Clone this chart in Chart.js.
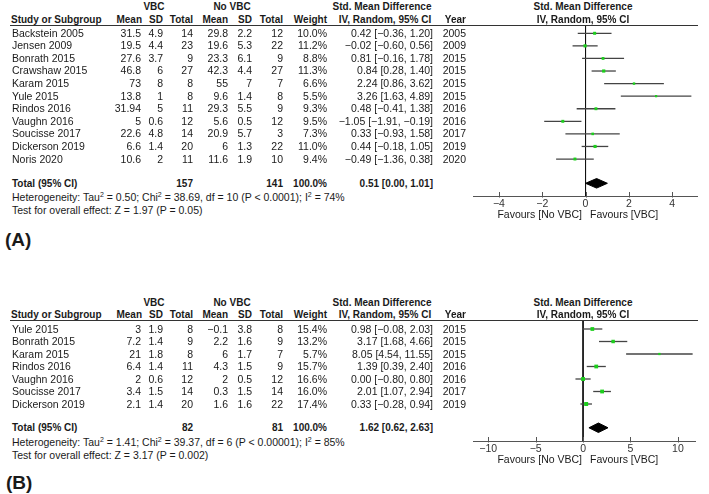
<!DOCTYPE html>
<html><head><meta charset="utf-8">
<script src="https://cdn.jsdelivr.net/npm/chart.js@4/dist/chart.umd.min.js"></script>
<style>
html,body{margin:0;padding:0;background:#fff;}
#page{position:relative;width:709px;height:494px;overflow:hidden;font-family:"Liberation Sans",Arial,sans-serif;font-size:10px;color:#1a1a1a;background:#fff;}
.t{position:absolute;white-space:nowrap;line-height:12px;height:12px;}
.b{font-weight:bold;}
.r{transform:translateX(-100%);}
.c{transform:translateX(-50%);}
.rule{position:absolute;height:0;border-top:1px solid #333;}
canvas{position:absolute;}
sup{font-size:7px;line-height:0;vertical-align:super;}
</style></head>
<body><div id="page">
<canvas id="cA" width="245" height="204" style="left:463px;top:16px;"></canvas>
<canvas id="cB" width="245" height="154" style="left:463px;top:311px;"></canvas>
</div>
<script>
// ---------- Panel A data ----------
const studiesA = ["Backstein 2005","Jensen 2009","Bonrath 2015","Crawshaw 2015","Karam 2015","Yule 2015","Rindos 2016","Vaughn 2016","Soucisse 2017","Dickerson 2019","Noris 2020"];
const vbcMeanA = [31.5,19.5,27.6,46.8,73,13.8,31.94,5,22.6,6.6,10.6];
const vbcSdA   = [4.9,4.4,3.7,6,8,1,5,0.6,4.8,1.4,2];
const vbcTotA  = [14,23,9,27,8,8,11,12,14,20,11];
const noMeanA  = [29.8,19.6,23.3,42.3,55,9.6,29.3,5.6,20.9,6,11.6];
const noSdA    = [2.2,5.3,6.1,4.4,7,1.4,5.5,0.5,5.7,1.3,1.9];
const noTotA   = [12,22,9,27,7,8,9,12,3,22,10];
const weightA  = [10.0,11.2,8.8,11.3,6.6,5.5,9.3,9.5,7.3,11.0,9.4];
const smdA     = [0.42,-0.02,0.81,0.84,2.24,3.26,0.48,-1.05,0.33,0.44,-0.49];
const loA      = [-0.36,-0.60,-0.16,0.28,0.86,1.63,-0.41,-1.91,-0.93,-0.18,-1.36];
const hiA      = [1.20,0.56,1.78,1.40,3.62,4.89,1.38,-0.19,1.58,1.05,0.38];
const yearA    = [2005,2009,2015,2015,2015,2015,2016,2016,2017,2019,2020];
const totalA   = [0.51,0.00,1.01];           // estimate, lower, upper
const totalNA  = [157,141];
const hetA     = ["0.50","38.69","10","P < 0.0001","74"];   // Tau2, Chi2, df, p, I2
const testA    = ["1.97","P = 0.05"];
const ticksA   = [-4,-2,0,2,4];
const tickLabelsA = ["−4","−2","0","2","4"];

// ---------- Panel B data ----------
const studiesB = ["Yule 2015","Bonrath 2015","Karam 2015","Rindos 2016","Vaughn 2016","Soucisse 2017","Dickerson 2019"];
const vbcMeanB = [3,7.2,21,6.4,2,3.4,2.1];
const vbcSdB   = [1.9,1.4,1.8,1.4,0.6,1.5,1.4];
const vbcTotB  = [8,9,8,11,12,14,20];
const noMeanB  = [-0.1,2.2,6,4.3,2,0.3,1.6];
const noSdB    = [3.8,1.6,1.7,1.5,0.5,1.5,1.6];
const noTotB   = [8,9,7,9,12,14,22];
const weightB  = [15.4,13.2,5.7,15.7,16.6,16.0,17.4];
const smdB     = [0.98,3.17,8.05,1.39,0.00,2.01,0.33];
const loB      = [-0.08,1.68,4.54,0.39,-0.80,1.07,-0.28];
const hiB      = [2.03,4.66,11.55,2.40,0.80,2.94,0.94];
const yearB    = [2015,2015,2015,2016,2016,2017,2019];
const totalB   = [1.62,0.62,2.63];
const totalNB  = [82,81];
const hetB     = ["1.41","39.37","6","P < 0.00001","85"];
const testB    = ["3.17","P = 0.002"];
const ticksB   = [-10,-5,0,5,10];
const tickLabelsB = ["−10","−5","0","5","10"];

// ---------- helpers ----------
Chart.defaults.font.family = '"Liberation Sans", Arial, sans-serif';
const page = document.getElementById('page');
const REG = 10.5, BOLD = 10;
const neg = s => String(s).replace('-', '−');
const f2 = v => (v < 0 ? '−' : '') + Math.abs(v).toFixed(2);
const ci = (e,l,h) => `${f2(e)} [${f2(l)}, ${f2(h)}]`;
function txt(s, x, y, align, bold, size) {
  const d = document.createElement('div');
  d.className = 't' + (bold ? ' b' : '') + (align === 'r' ? ' r' : align === 'c' ? ' c' : '');
  const fs = size || (bold ? BOLD : REG), lh = Math.round(fs * 1.2);
  d.style.fontSize = fs + 'px'; d.style.lineHeight = lh + 'px'; d.style.height = lh + 'px';
  d.style.left = x + 'px'; d.style.top = (y - lh / 2) + 'px';
  d.innerHTML = s;
  page.appendChild(d);
}
function rule(x1, x2, y) {
  const d = document.createElement('div');
  d.className = 'rule';
  d.style.left = x1 + 'px'; d.style.width = (x2 - x1) + 'px'; d.style.top = y + 'px';
  page.appendChild(d);
}

const COL = {study:12, vbcMean:141, vbcSd:163, vbcTot:193, noMean:228, noSd:252, noTot:283, weight:327, smd:433, year:466};

function table(P, L) {
  txt('VBC', 154, L.h1, 'c', true);
  txt('No VBC', 232, L.h1, 'c', true);
  txt('Std. Mean Difference', 382, L.h1, 'c', true);
  txt('Std. Mean Difference', 583, L.h1, 'c', true);
  txt('Study or Subgroup', 11, L.h2, 'l', true);
  txt('Mean', 142, L.h2, 'r', true);
  txt('SD', COL.vbcSd, L.h2, 'r', true);
  txt('Total', COL.vbcTot, L.h2, 'r', true);
  txt('Mean', COL.noMean, L.h2, 'r', true);
  txt('SD', COL.noSd, L.h2, 'r', true);
  txt('Total', COL.noTot, L.h2, 'r', true);
  txt('Weight', COL.weight, L.h2, 'r', true);
  txt('IV, Random, 95% CI', 385, L.h2, 'c', true);
  txt('Year', COL.year, L.h2, 'r', true);
  txt('IV, Random, 95% CI', 583, L.h2, 'c', true);
  rule(10, 698, L.rule);
  P.studies.forEach((s, i) => {
    const y = L.row0 + L.step * i;
    txt(s, COL.study, y, 'l');
    txt(neg(P.vbcMean[i]), COL.vbcMean, y, 'r');
    txt(neg(P.vbcSd[i]), COL.vbcSd, y, 'r');
    txt(P.vbcTot[i], COL.vbcTot, y, 'r');
    txt(neg(P.noMean[i]), COL.noMean, y, 'r');
    txt(neg(P.noSd[i]), COL.noSd, y, 'r');
    txt(P.noTot[i], COL.noTot, y, 'r');
    txt(P.weight[i].toFixed(1) + '%', COL.weight, y, 'r');
    txt(ci(P.smd[i], P.lo[i], P.hi[i]), COL.smd, y, 'r');
    txt(P.year[i], COL.year, y, 'r');
  });
  txt('Total (95% CI)', COL.study, L.tot, 'l', true);
  txt(P.totalN[0], COL.vbcTot, L.tot, 'r', true);
  txt(P.totalN[1], COL.noTot, L.tot, 'r', true);
  txt('100.0%', COL.weight, L.tot, 'r', true);
  txt(ci(P.total[0], P.total[1], P.total[2]), COL.smd, L.tot, 'r', true);
  const h = P.het;
  txt(`Heterogeneity: Tau<sup>2</sup> = ${h[0]}; Chi<sup>2</sup> = ${h[1]}, df = ${h[2]} (${h[3]}); I<sup>2</sup> = ${h[4]}%`, COL.study, L.het, 'l');
  txt(`Test for overall effect: Z = ${P.test[0]} (${P.test[1]})`, COL.study, L.test, 'l');
  txt('Favours [No VBC]', 582, L.fav, 'r');
  txt('Favours [VBC]', 590, L.fav, 'l');
  txt(L.label, L.labelX, L.labelY, 'l', true, 19);
}

const tickMarks = {
  id: 'tickMarks',
  afterDraw(chart) {
    const s = chart.scales.x, ctx = chart.ctx, y = chart.chartArea.bottom;
    ctx.save(); ctx.strokeStyle = '#555'; ctx.lineWidth = 1;
    s.ticks.forEach(t => {
      const px = Math.round(s.getPixelForValue(t.value)) + 0.5;
      ctx.beginPath(); ctx.moveTo(px, y - 4); ctx.lineTo(px, y + 1.5); ctx.stroke();
    });
    ctx.restore();
  }
};

function forest(id, P, X) {
  const green = '#1ccf1c';
  const ds = [];
  ds.push({ data: P.smd.map((v, i) => ({x: v, y: i})), showLine: false, pointStyle: 'rect',
            pointRadius: P.weight.map(w => 0.95 * Math.sqrt(w) / Math.SQRT2),
            pointBackgroundColor: green, pointBorderColor: green, pointBorderWidth: 0, order: 0 });
  const T = X.totalRow, h = X.dh;
  ds.push({ data: [{x: P.total[1], y: T}, {x: P.total[0], y: T - h}, {x: P.total[2], y: T}],
            fill: '+1', backgroundColor: '#000', borderColor: '#000', borderWidth: 1, pointRadius: 0, tension: 0, order: 1 });
  ds.push({ data: [{x: P.total[1], y: T}, {x: P.total[0], y: T + h}, {x: P.total[2], y: T}],
            fill: false, borderColor: '#000', borderWidth: 1, pointRadius: 0, tension: 0, order: 1 });
  P.lo.forEach((l, i) => {
    ds.push({ data: [{x: l, y: i}, {x: P.hi[i], y: i}], fill: false, borderColor: '#444', borderWidth: 1.3,
              pointRadius: 0, order: 2 });
  });
  ds.push({ data: [{x: 0, y: X.rMin}, {x: 0, y: X.rMax}], fill: false, borderColor: '#111', borderWidth: 1,
            pointRadius: 0, order: 3 });
  new Chart(document.getElementById(id), {
    type: 'line',
    data: { datasets: ds },
    plugins: [tickMarks],
    options: {
      responsive: false, maintainAspectRatio: false, animation: false, events: [],
      layout: { padding: { left: 10, top: 10, right: X.padRight, bottom: 0 } },
      plugins: { legend: { display: false }, tooltip: { enabled: false } },
      scales: {
        x: { type: 'linear', min: X.min, max: X.max,
             afterBuildTicks: s => { s.ticks = X.ticks.map(v => ({value: v})); },
             afterFit: s => { s.height = 24; },
             grid: { display: false, drawTicks: false },
             border: { display: true, color: '#555', width: 1 },
             ticks: { padding: 2, color: '#333', font: { size: 10.5 }, maxRotation: 0, autoSkip: false,
                      callback: (v, i) => X.tickLabels[i] } },
        y: { type: 'linear', display: false, reverse: true, min: X.rMin, max: X.rMax }
      }
    }
  });
}

const PA = {studies: studiesA, vbcMean: vbcMeanA, vbcSd: vbcSdA, vbcTot: vbcTotA, noMean: noMeanA, noSd: noSdA,
  noTot: noTotA, weight: weightA, smd: smdA, lo: loA, hi: hiA, year: yearA, total: totalA, totalN: totalNA, het: hetA, test: testA};
const PB = {studies: studiesB, vbcMean: vbcMeanB, vbcSd: vbcSdB, vbcTot: vbcTotB, noMean: noMeanB, noSd: noSdB,
  noTot: noTotB, weight: weightB, smd: smdB, lo: loB, hi: hiB, year: yearB, total: totalB, totalN: totalNB, het: hetB, test: testB};

table(PA, {h1: 7, h2: 20, rule: 25, row0: 33, step: 12.6, tot: 183.5, het: 197.5, test: 210.5, fav: 214, label: '(A)', labelX: 5, labelY: 239});
table(PB, {h1: 302.5, h2: 315, rule: 320, row0: 329, step: 12.5, tot: 427.5, het: 442, test: 455, fav: 459, label: '(B)', labelX: 6, labelY: 482});

forest('cA', PA, {min: -5.2, max: 5.15, rMin: -0.58, rMax: 12.94, totalRow: 11.93, dh: 0.38, padRight: 11, ticks: ticksA, tickLabels: tickLabelsA});
forest('cB', PB, {min: -11.6, max: 11.8, rMin: -0.64, rMax: 8.96, totalRow: 7.9, dh: 0.38, padRight: 13, ticks: ticksB, tickLabels: tickLabelsB});
</script>
</body></html>
